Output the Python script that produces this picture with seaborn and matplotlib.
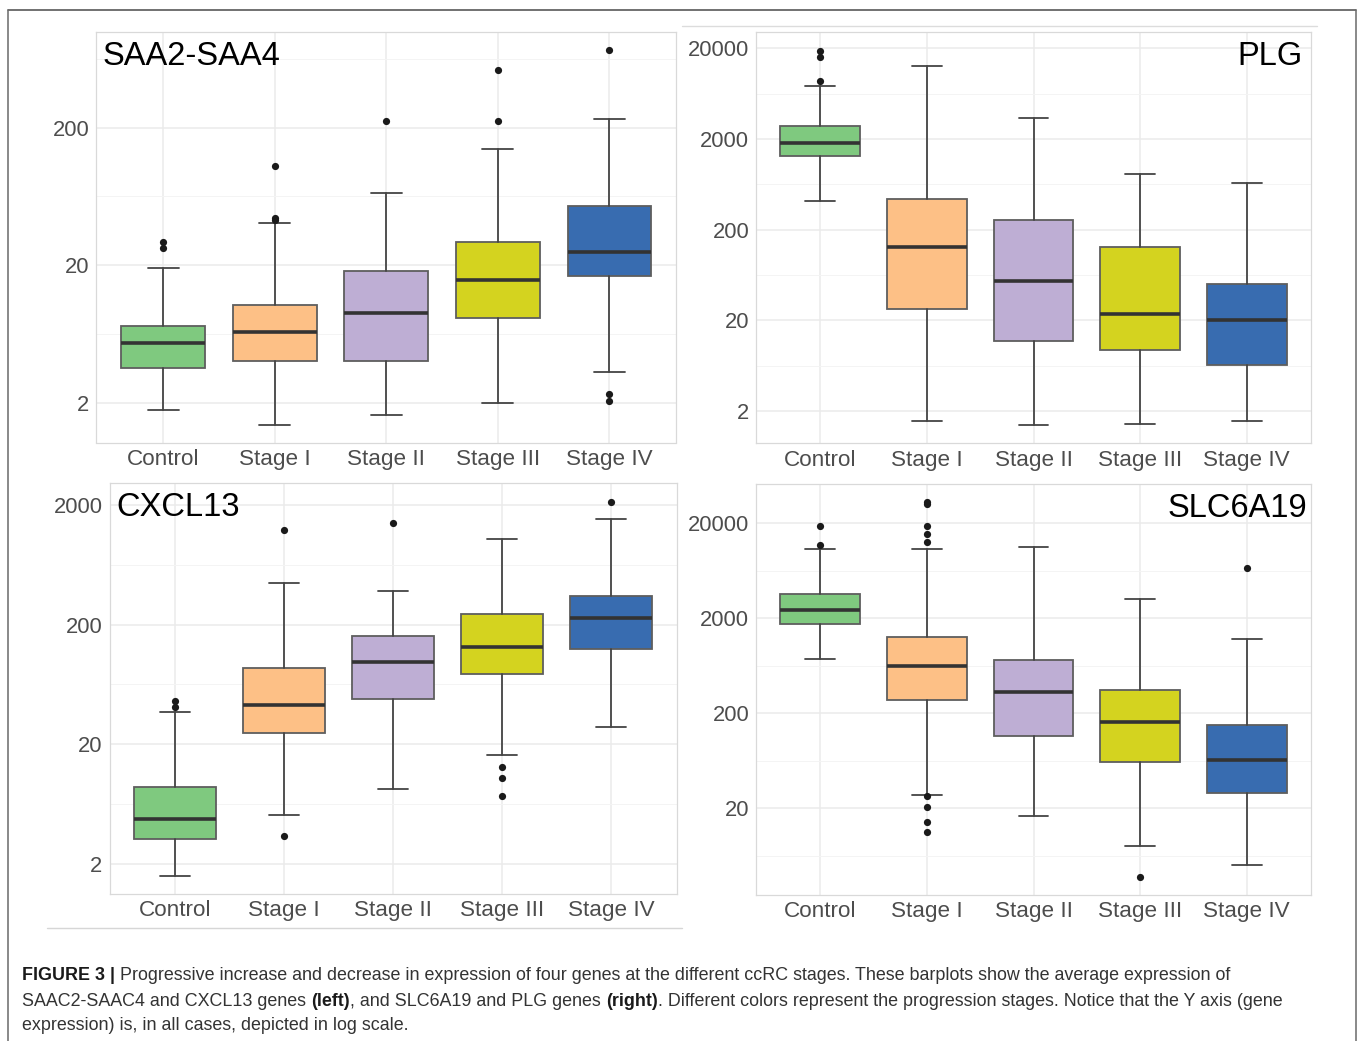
import matplotlib
matplotlib.use("Agg")
import matplotlib.pyplot as plt
from matplotlib.lines import Line2D
from matplotlib.ticker import FixedLocator, FuncFormatter, NullFormatter
import numpy as np
import pandas as pd
import seaborn as sns

# ---------------------------------------------------------------- data
stages = ["Control", "Stage I", "Stage II", "Stage III", "Stage IV"]
stage_colors = ["#7FC97F", "#FDC086", "#BEAED4", "#D4D31F", "#386CB0"]

# SAA2-SAA4
saa_whislo = [1.78, 1.40, 1.65, 2.02, 3.36]
saa_q1 = [3.61, 4.07, 4.05, 8.35, 16.8]
saa_med = [5.45, 6.61, 8.99, 15.7, 24.9]
saa_q3 = [7.27, 10.4, 18.2, 29.7, 54.2]
saa_whishi = [19.2, 40.4, 67.3, 139, 232]
saa_fliers = [[26.6, 29.4], [42.7, 43.9, 105], [223], [223, 522], [2.09, 2.34, 731]]

# PLG
plg_whislo = [417, 1.56, 1.39, 1.44, 1.55]
plg_q1 = [1306, 26.9, 11.9, 9.41, 6.48]
plg_med = [1817, 128, 54.2, 23.3, 20.3]
plg_q3 = [2755, 438, 253, 128, 50.3]
plg_whishi = [7600, 12830, 3400, 815, 653]
plg_fliers = [[8770, 15880, 18750], [], [], [], []]

# CXCL13
cxc_whislo = [1.58, 5.14, 8.37, 16.3, 27.6]
cxc_q1 = [3.24, 24.8, 47.3, 76.7, 126]
cxc_med = [4.70, 42.5, 97.8, 130, 227]
cxc_q3 = [8.75, 86.6, 160, 245, 348]
cxc_whishi = [37.4, 443, 379, 1038, 1528]
cxc_fliers = [[41.1, 46.2], [3.39, 1235], [1423], [7.41, 10.5, 12.9], [2133]]

# SLC6A19
slc_whislo = [752, 27.9, 16.6, 8.09, 5.02]
slc_q1 = [1758, 276, 116, 62, 28.8]
slc_med = [2449, 630, 338, 163, 64.5]
slc_q3 = [3607, 1283, 728, 352, 149.5]
slc_whishi = [10640, 10820, 11360, 3196, 1202]
slc_fliers = [[11920, 18750],
              [11.4, 14.5, 20.5, 27.0, 12830, 15450, 18900, 31700, 33260],
              [], [3.82], [6826]]

# ---------------------------------------------------------------- style
sns.set_theme(style="whitegrid")
plt.rcParams["font.family"] = ["Liberation Sans", "DejaVu Sans"]

W, H = 1360, 1041
fig = plt.figure(figsize=(W / 100, H / 100), dpi=100)
fig.patch.set_facecolor("white")


def rect(x0, y0, x1, y1):
    return [x0 / W, 1 - y1 / H, (x1 - x0) / W, (y1 - y0) / H]


def panel(box, gene, whislo, q1, med, q3, whishi, fliers,
          ylim, majors, title_xy, title_ha):
    ax = fig.add_axes(rect(*box))
    ax.set_yscale("log")
    stats = []
    for i, name in enumerate(stages):
        stats.append(dict(label=name, whislo=whislo[i], q1=q1[i], med=med[i],
                          q3=q3[i], whishi=whishi[i], fliers=[]))
    parts = ax.bxp(stats, positions=range(len(stages)), widths=0.75,
                   capwidths=0.28, patch_artist=True, showfliers=False,
                   manage_ticks=False,
                   boxprops=dict(edgecolor="#5E5E5E", linewidth=1.3),
                   whiskerprops=dict(color="#444444", linewidth=1.3),
                   capprops=dict(color="#444444", linewidth=1.3),
                   medianprops=dict(color="#333333", linewidth=2.6))
    for patch, col in zip(parts["boxes"], stage_colors):
        patch.set_facecolor(col)
        patch.set_zorder(2)

    out = pd.DataFrame({
        "stage": [stages[i] for i, f in enumerate(fliers) for _ in f],
        "value": [v for f in fliers for v in f],
    })
    if len(out):
        sns.stripplot(data=out, x="stage", y="value", order=stages,
                      jitter=False, color="#1A1A1A", size=5.2,
                      linewidth=0, ax=ax, zorder=3)

    ax.set_xlim(-0.6, len(stages) - 0.4)
    ax.set_ylim(*ylim)
    ax.set_xticks(range(len(stages)))
    ax.set_xticklabels(stages)
    ax.set_xlabel("")
    ax.set_ylabel("")

    ax.yaxis.set_major_locator(FixedLocator(majors))
    ax.yaxis.set_major_formatter(FuncFormatter(lambda v, p: f"{v:g}"))
    minors = [2 * 10 ** (k + 0.5) for k in range(-2, 6)]
    ax.yaxis.set_minor_locator(FixedLocator([m for m in minors if ylim[0] < m < ylim[1]]))
    ax.yaxis.set_minor_formatter(NullFormatter())

    ax.set_axisbelow(True)
    ax.grid(False)
    ax.grid(True, which="major", axis="both", color="#EBEBEB", linewidth=1.1)
    ax.grid(True, which="minor", axis="y", color="#F4F4F4", linewidth=0.7)
    for sp in ax.spines.values():
        sp.set_visible(True)
        sp.set_color("#D9D9D9")
        sp.set_linewidth(0.9)
    ax.tick_params(axis="both", which="major", length=2.5, width=0.8,
                   color="#B3B3B3", colors="#4D4D4D")
    ax.tick_params(axis="y", which="major", labelsize=15.8, pad=2.5)
    ax.tick_params(axis="x", which="major", labelsize=16.2, pad=2.0)
    ax.tick_params(axis="y", which="minor", length=0)
    for lab in ax.get_xticklabels() + ax.get_yticklabels():
        lab.set_color("#4D4D4D")

    fig.text(title_xy[0] / W, 1 - title_xy[1] / H, gene, ha=title_ha,
             va="baseline", fontsize=23.5, color="black")
    return ax


panel((96.3, 31.7, 676.3, 442.5), "SAA2-SAA4",
      saa_whislo, saa_q1, saa_med, saa_q3, saa_whishi, saa_fliers,
      (1.039, 991), [2, 20, 200], (102.8, 65), "left")
panel((756.3, 32.3, 1310.7, 443.3), "PLG",
      plg_whislo, plg_q1, plg_med, plg_q3, plg_whishi, plg_fliers,
      (0.881, 29930), [2, 20, 200, 2000, 20000], (1303, 65), "right")
panel((109.5, 483.3, 676.5, 894.0), "CXCL13",
      cxc_whislo, cxc_q1, cxc_med, cxc_q3, cxc_whishi, cxc_fliers,
      (1.116, 3034), [2, 20, 200, 2000], (116, 516), "left")
panel((756.3, 484.0, 1310.7, 894.5), "SLC6A19",
      slc_whislo, slc_q1, slc_med, slc_q3, slc_whishi, slc_fliers,
      (2.48, 51850), [20, 200, 2000, 20000], (1307.5, 516.7), "right")

# ---------------------------------------------------------------- frame and rules
def hline(y, x0, x1, color, lw):
    fig.add_artist(Line2D([x0 / W, x1 / W], [1 - y / H, 1 - y / H],
                          transform=fig.transFigure, color=color, linewidth=lw))


def vline(x, y0, y1, color, lw):
    fig.add_artist(Line2D([x / W, x / W], [1 - y0 / H, 1 - y1 / H],
                          transform=fig.transFigure, color=color, linewidth=lw))


hline(10.3, 8, 1355.5, "#4A4A4A", 1.1)
vline(8, 10.3, H + 2, "#6A6A6A", 1.1)
vline(1355.5, 10.3, H + 2, "#6A6A6A", 1.1)
hline(25.7, 682, 1317, "#DCDCDC", 1.0)
hline(928.3, 46.7, 681.7, "#D6D6D6", 1.0)

# ---------------------------------------------------------------- caption
renderer = fig.canvas.get_renderer()
cap_size = 12.9
cap_lines = [
    [("FIGURE 3 | ", "bold"),
     ("Progressive increase and decrease in expression of four genes at the "
      "different ccRC stages. These barplots show the average expression of", "normal")],
    [("SAAC2-SAAC4 and CXCL13 genes ", "normal"), ("(left)", "bold"),
     (", and SLC6A19 and PLG genes ", "normal"), ("(right)", "bold"),
     (". Different colors represent the progression stages. Notice that the Y axis (gene",
      "normal")],
    [("expression) is, in all cases, depicted in log scale.", "normal")],
]
baselines = [980.5, 1005.5, 1030.5]
for runs, yb in zip(cap_lines, baselines):
    x = 22.5
    for text, weight in runs:
        t = fig.text(x / W, 1 - yb / H, text, fontsize=cap_size, fontweight=weight,
                     color="#1A1A1A" if weight == "bold" else "#333333",
                     ha="left", va="baseline")
        bb = t.get_window_extent(renderer)
        x += bb.width

fig.savefig("out.png", dpi=100, facecolor="white")
